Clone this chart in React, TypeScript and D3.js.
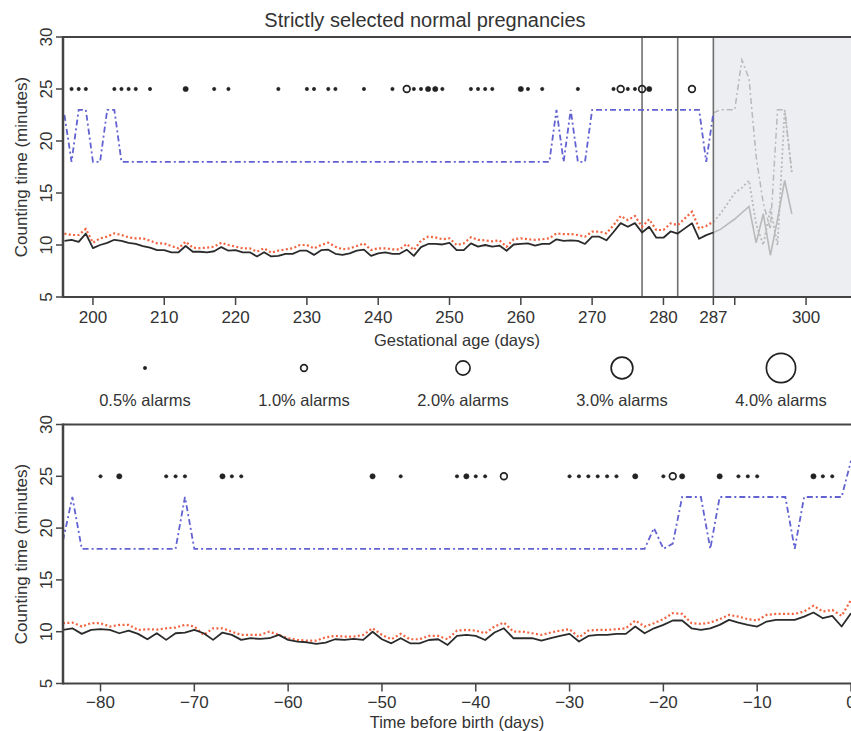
import React from "react";
import * as d3 from "d3";

const FONT = "'Liberation Sans', Arial, Helvetica, sans-serif";
const TITLE = "Strictly selected normal pregnancies";

// ---- top panel: by gestational age (day 196 .. 287)
const topFirstDay = 196;
const topMean = [
  10.4, 10.5, 10.3, 11.1, 9.7, 10.0, 10.2, 10.5, 10.4, 10.2,
  10.1, 9.9, 9.75, 9.5, 9.5, 9.3, 9.3, 9.9, 9.35, 9.35,
  9.3, 9.4, 9.8, 9.45, 9.5, 9.3, 9.3, 8.9, 9.3, 8.9,
  8.95, 9.15, 9.15, 9.45, 9.45, 9.05, 9.5, 9.55, 9.15, 9.05,
  9.2, 9.45, 9.55, 8.95, 9.2, 9.3, 9.15, 9.15, 9.55, 8.95,
  9.8, 10.1, 10.1, 10.05, 10.2, 9.5, 9.5, 10.15, 9.85, 10.0,
  9.85, 9.95, 9.45, 10.05, 10.1, 10.15, 9.95, 10.1, 10.1, 10.55,
  10.4, 10.45, 10.4, 10.1, 10.8, 10.8, 10.45, 11.25, 12.1, 11.75,
  12.1, 11.2, 11.75, 10.7, 10.7, 11.3, 11.1, 11.6, 12.1, 10.6,
  10.95, 11.2,
];
const topUpper = [
  11.1, 10.96, 10.96, 11.54, 10.22, 10.64, 10.8, 11.12, 10.96, 10.74,
  10.64, 10.64, 10.42, 10.16, 10.16, 9.9, 9.68, 10.32, 9.74, 9.7,
  9.74, 9.84, 10.22, 10.0, 9.84, 9.68, 9.68, 9.36, 9.68, 9.26,
  9.46, 9.58, 9.68, 10.0, 10.0, 9.68, 10.0, 10.22, 9.84, 9.58,
  9.68, 9.9, 10.16, 9.52, 9.68, 9.68, 9.58, 9.58, 10.1, 9.52,
  10.42, 10.8, 10.74, 10.55, 10.64, 10.0, 10.16, 10.74, 10.5, 10.45,
  10.35, 10.45, 9.84, 10.55, 10.64, 10.55, 10.5, 10.55, 10.64, 11.12,
  11.05, 11.05, 10.96, 10.8, 11.28, 11.28, 11.12, 11.9, 12.79, 12.4,
  12.79, 11.76, 12.47, 11.44, 11.44, 12.08, 11.92, 12.56, 13.2, 11.6,
  11.83, 12.24,
];
const topLevelDays = [196, 197, 198, 199, 200, 201, 202, 203, 204, 264, 265, 266, 267, 268, 269, 270, 285, 286, 287];
const topLevel = [22.5, 18, 23, 23, 18, 18, 23, 23, 18, 18, 23, 18, 23, 18, 18, 23, 23, 18, 22.7];

const greyDays = [287, 288, 289, 290, 291, 292, 293, 294, 295, 296, 297, 298];
const greyMean = [11.2, 11.5, 12, 12.5, 13.1, 13.7, 10.2, 13, 9, 12.5, 16.2, 13];
const greyUpper = [12.2, 13, 14, 15, 15.5, 16.2, 12, 10, 13.5, 10, 23, 17];
const greyLevel = [22.7, 23, 23, 23, 27.8, 26, 18.5, 14, 11.5, 23, 23, 17];

const markerDays = [277, 282, 287];

const topAlarmDays = [
  197, 198, 199, 203, 204, 205, 206, 208, 213, 217, 219, 226, 230, 231, 233, 234, 238,
  242, 244, 245, 246, 247, 248, 249, 253, 254, 255, 256, 260, 261, 263, 268, 273, 274,
  275, 276, 277, 278, 284,
];
const topAlarmRates = [
  0.5, 0.5, 0.5, 0.5, 0.5, 0.5, 0.5, 0.5, 0.75, 0.5, 0.5, 0.5, 0.5, 0.5, 0.5, 0.5, 0.5,
  0.5, 1.0, 0.5, 0.5, 0.75, 0.75, 0.5, 0.5, 0.5, 0.5, 0.5, 0.75, 0.5, 0.5, 0.5, 0.5, 1.0,
  0.5, 0.5, 1.0, 0.75, 1.0,
];
const topTicks = [200, 210, 220, 230, 240, 250, 260, 270, 280, 287, 290, 300];
const topTickLabels = ["200", "210", "220", "230", "240", "250", "260", "270", "280", "287", "", "300"];

// ---- bottom panel: days before birth (-84 .. 0)
const bottomFirstDay = -84;
const bottomMean = [
  10.17, 10.33, 9.79, 10.17, 10.24, 10.17, 9.85, 10.11, 9.79, 9.27,
  9.85, 9.21, 9.85, 9.92, 10.17, 9.85, 9.21, 9.92, 9.69, 9.21,
  9.37, 9.3, 9.37, 9.69, 9.21, 9.05, 8.98, 8.82, 8.95, 9.27,
  9.21, 9.3, 9.21, 10.0, 9.27, 8.88, 9.37, 8.88, 8.88, 9.2,
  9.27, 8.72, 9.59, 9.69, 9.59, 9.2, 9.92, 10.33, 9.37, 9.37,
  9.37, 9.14, 9.37, 9.59, 9.79, 9.05, 9.59, 9.69, 9.69, 9.79,
  9.79, 10.5, 9.85, 10.33, 10.66, 11.08, 11.08, 10.33, 10.17, 10.33,
  10.66, 11.14, 10.88, 10.66, 10.5, 10.98, 11.14, 11.14, 11.14, 11.46,
  11.85, 11.3, 11.53, 10.5, 11.79,
];
const bottomUpper = [
  10.82, 10.88, 10.5, 10.82, 10.82, 10.5, 10.66, 10.66, 10.17, 10.24,
  10.2, 10.33, 10.4, 10.66, 10.5, 9.69, 10.33, 10.33, 10.0, 9.69,
  9.69, 9.69, 10.01, 9.69, 9.37, 9.21, 9.14, 9.14, 9.46, 9.59,
  9.53, 9.53, 9.69, 10.33, 9.69, 9.27, 9.79, 9.27, 9.27, 9.59,
  9.59, 9.27, 10.11, 10.17, 10.11, 9.85, 10.5, 10.88, 10.01, 10.01,
  9.85, 9.69, 9.92, 10.11, 10.24, 9.46, 10.11, 10.17, 10.17, 10.24,
  10.33, 11.08, 10.5, 10.82, 11.21, 11.79, 11.72, 10.82, 10.75, 10.88,
  11.21, 11.62, 11.46, 11.21, 11.08, 11.62, 11.72, 11.72, 11.72, 11.95,
  12.5, 11.95, 12.1, 11.53, 13.07,
];
const bottomLevelDays = [-84, -83, -82, -72, -71, -70, -22, -21, -20, -19, -18, -16, -15, -14, -7, -6, -5, -1, 0];
const bottomLevel = [18.8, 23, 18, 18, 23, 18, 18, 20, 18, 18.5, 23, 23, 18, 23, 23, 18, 23, 23, 26.5];

const bottomAlarmDays = [
  -80, -78, -73, -72, -71, -67, -66, -65, -51, -48, -42, -41, -40, -39, -37, -30, -29,
  -28, -27, -26, -25, -23, -20, -19, -18, -14, -12, -11, -10, -4, -3, -2,
];
const bottomAlarmRates = [
  0.5, 0.75, 0.5, 0.5, 0.5, 0.75, 0.5, 0.5, 0.75, 0.5, 0.5, 0.75, 0.5, 0.5, 1.0, 0.5, 0.5,
  0.5, 0.5, 0.5, 0.5, 0.75, 0.5, 1.0, 0.75, 0.75, 0.5, 0.5, 0.5, 0.75, 0.5, 0.5,
];
const bottomTicks = [-80, -70, -60, -50, -40, -30, -20, -10, 0];

// ---- legend
const legendRates = [0.5, 1.0, 2.0, 3.0, 4.0];
const legendLabels = ["0.5% alarms", "1.0% alarms", "2.0% alarms", "3.0% alarms", "4.0% alarms"];

const yTicks = [5, 10, 15, 20, 25, 30];
const ALARM_Y = 25;

const rScale = d3.scaleLinear().domain([0, 4]).range([0, 15]);

const BLACK = "#2b2b2b";
const ORANGE = "#f2633f";
const BLUE = "#6262d2";
const GREY = "#b9b9b9";

function Alarm({ cx, cy, rate }) {
  const r = rScale(rate);
  const filled = rate < 1;
  return (
    <circle
      cx={cx}
      cy={cy}
      r={filled ? r - 0.2 : r - 0.4}
      fill={filled ? "#222" : "none"}
      stroke="#222"
      strokeWidth={filled ? 0.6 : 1.7}
    />
  );
}

function Panel({ top, bottom, xDomain, ticks, tickLabels, tickOffset, xTitle, titleOffset, days, mean, upper, levelDays, level, alarmDays, alarmRates, extras }) {
  const x = d3.scaleLinear().domain(xDomain).range([63, 851]);
  const y = d3.scaleLinear().domain([5, 30]).range([bottom, top]);
  const line = d3.line().x((d) => x(d[0])).y((d) => y(d[1]));
  const meanPts = mean.map((v, i) => [days[i], v]);
  const upperPts = upper.map((v, i) => [days[i], v]);
  const levelPts = level.map((v, i) => [levelDays[i], v]);
  const clipId = "clip" + Math.round(top);
  return (
    <g>
      <clipPath id={clipId}>
        <rect x={63} y={top} width={851 - 63} height={bottom - top} />
      </clipPath>
      {extras && extras(x, y, line)}
      <g clipPath={`url(#${clipId})`}>
        <path d={line(levelPts)} fill="none" stroke={BLUE} strokeWidth={1.8} strokeDasharray="6,3,2,3" />
        <path d={line(upperPts)} fill="none" stroke={ORANGE} strokeWidth={2.2} strokeDasharray="2,2.4" />
        <path d={line(meanPts)} fill="none" stroke={BLACK} strokeWidth={1.8} strokeLinejoin="round" />
        {alarmDays.map((d, i) => (
          <Alarm key={i} cx={x(d)} cy={y(ALARM_Y)} rate={alarmRates[i]} />
        ))}
      </g>
      {/* frame */}
      <line x1={63} x2={851} y1={top} y2={top} stroke="#444" strokeWidth={2} />
      <line x1={63} x2={851} y1={bottom} y2={bottom} stroke="#444" strokeWidth={2} />
      <line x1={63} x2={63} y1={top - 1} y2={bottom + 1} stroke="#444" strokeWidth={2.5} />
      {yTicks.map((t) => (
        <g key={t}>
          <line x1={56} x2={63} y1={y(t)} y2={y(t)} stroke="#444" strokeWidth={1.5} />
          <text
            transform={`translate(52,${y(t)}) rotate(-90)`}
            textAnchor="middle"
            fontSize={17}
            fill="#333"
          >
            {t}
          </text>
        </g>
      ))}
      {ticks.map((t, i) => (
        <g key={t}>
          <line x1={x(t)} x2={x(t)} y1={bottom} y2={bottom + 8} stroke="#444" strokeWidth={1.5} />
          <text x={x(t)} y={bottom + tickOffset} textAnchor="middle" fontSize={17} fill="#333">
            {tickLabels[i]}
          </text>
        </g>
      ))}
      <text x={457} y={bottom + titleOffset} textAnchor="middle" fontSize={16.5} fill="#333">
        {xTitle}
      </text>
      <text
        transform={`translate(27,${(top + bottom) / 2}) rotate(-90)`}
        textAnchor="middle"
        fontSize={17}
        fill="#333"
      >
        Counting time (minutes)
      </text>
    </g>
  );
}

export default function App() {
  const topDays = topMean.map((_, i) => topFirstDay + i);
  const bottomDays = bottomMean.map((_, i) => bottomFirstDay + i);

  const topExtras = (x, y, line) => {
    const greyMeanPts = greyMean.map((v, i) => [greyDays[i], v]);
    const greyUpperPts = greyUpper.map((v, i) => [greyDays[i], v]);
    const greyLevelPts = greyLevel.map((v, i) => [greyDays[i], v]);
    return (
      <g>
        <rect x={x(287)} y={y(30)} width={851 - x(287)} height={y(5) - y(30)} fill="#eceef1" />
        <path d={line(greyLevelPts)} fill="none" stroke={GREY} strokeWidth={1.5} strokeDasharray="6,3,2,3" />
        <path d={line(greyUpperPts)} fill="none" stroke={GREY} strokeWidth={1.8} strokeDasharray="2,2.4" />
        <path d={line(greyMeanPts)} fill="none" stroke={GREY} strokeWidth={1.6} />
        {markerDays.map((d) => (
          <line key={d} x1={x(d)} x2={x(d)} y1={y(30)} y2={y(5)} stroke="#6f6f6f" strokeWidth={1.6} />
        ))}
      </g>
    );
  };

  return (
    <svg
      width={851}
      height={731}
      style={{ position: "absolute", left: 0, top: 0, background: "#fff" }}
      fontFamily={FONT}
    >
      <rect width={851} height={731} fill="#fff" />
      <text x={425} y={27} textAnchor="middle" fontSize={20} fill="#333">
        {TITLE}
      </text>
      <Panel
        top={37}
        bottom={297}
        xDomain={[195.8, 306.3]}
        ticks={topTicks}
        tickLabels={topTickLabels}
        tickOffset={26}
        xTitle="Gestational age (days)"
        titleOffset={49}
        days={topDays}
        mean={topMean}
        upper={topUpper}
        levelDays={topLevelDays}
        level={topLevel}
        alarmDays={topAlarmDays}
        alarmRates={topAlarmRates}
        extras={topExtras}
      />
      {legendRates.map((r, i) => {
        const cx = 145 + i * 159;
        return (
          <g key={r}>
            <Alarm cx={cx} cy={368} rate={r} />
            <text x={cx} y={406} textAnchor="middle" fontSize={16.5} fill="#333">
              {legendLabels[i]}
            </text>
          </g>
        );
      })}
      <Panel
        top={424.5}
        bottom={683.5}
        xDomain={[-84, 0]}
        ticks={bottomTicks}
        tickLabels={bottomTicks.map((t) => (t < 0 ? "\u2212" + Math.abs(t) : String(t)))}
        tickOffset={24}
        xTitle="Time before birth (days)"
        titleOffset={44}
        days={bottomDays}
        mean={bottomMean}
        upper={bottomUpper}
        levelDays={bottomLevelDays}
        level={bottomLevel}
        alarmDays={bottomAlarmDays}
        alarmRates={bottomAlarmRates}
      />
    </svg>
  );
}
